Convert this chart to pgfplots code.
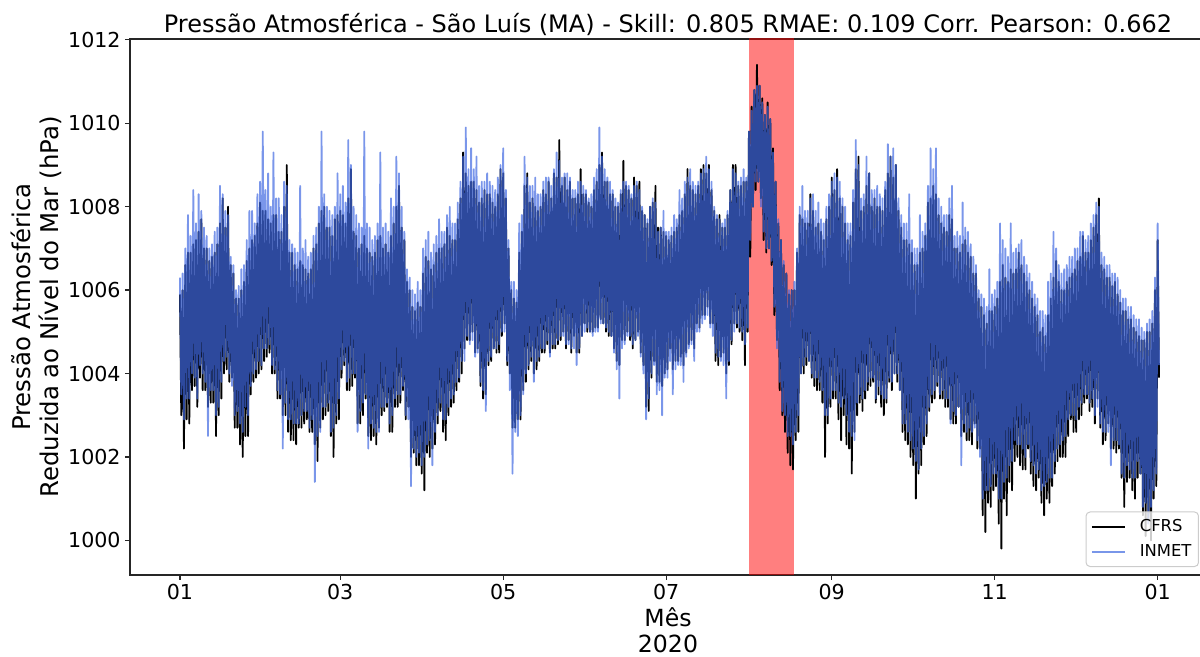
\documentclass[border=0pt]{standalone}
\usepackage{fontspec}
\setmainfont{DejaVu Sans}
\usepackage{pgfplots}
\pgfplotsset{compat=1.18}
\usepackage{pgfplotstable}

\definecolor{inmetblue}{RGB}{65,105,225}

% t: day of 2020 (0 = 1 Jan 00h), sampled twice a day at the daily high and low
% c: CFRS (hPa); i: INMET (hPa)
\pgfplotstableread{
t c i
0 1005.9 1006.3
0.5 1003.0 1003.5
1 1006.0 1006.4
1.5 1002.2 1002.9
2 1006.6 1007.0
2.5 1002.9 1003.4
3 1006.9 1007.8
3.5 1002.8 1003.4
4 1006.9 1007.3
4.5 1003.6 1004.0
5 1007.1 1008.4
5.5 1003.7 1003.9
6 1007.2 1007.6
6.5 1003.2 1003.4
7 1007.4 1008.3
7.5 1003.9 1004.2
8 1007.7 1007.9
8.5 1003.6 1004.0
9 1007.0 1007.5
9.5 1003.6 1003.8
10 1007.0 1007.3
10.5 1003.2 1002.5
11 1006.7 1007.0
11.5 1003.3 1003.6
12 1006.8 1007.1
12.5 1003.3 1003.6
13 1006.9 1007.4
13.5 1002.5 1003.0
14 1007.1 1007.5
14.5 1003.0 1003.2
15 1007.6 1008.5
15.5 1003.4 1003.8
16 1008.2 1008.3
16.5 1004.0 1004.3
17 1007.5 1007.9
17.5 1004.1 1004.4
18 1008.0 1007.8
18.5 1003.8 1004.0
19 1006.6 1006.8
19.5 1003.9 1003.7
20 1006.4 1006.6
20.5 1002.7 1003.0
21 1005.8 1006.0
21.5 1002.7 1003.1
22 1005.8 1006.1
22.5 1002.3 1002.8
23 1006.0 1006.5
23.5 1002.0 1002.6
24 1006.2 1006.6
24.5 1002.5 1003.2
25 1006.7 1007.2
25.5 1002.5 1003.0
26 1007.0 1007.9
26.5 1003.5 1003.7
27 1007.2 1007.9
27.5 1003.8 1004.0
28 1007.3 1007.6
28.5 1003.9 1004.1
29 1007.6 1008.3
29.5 1004.0 1004.3
30 1008.1 1008.6
30.5 1004.1 1004.2
31 1007.9 1009.8
31.5 1004.3 1004.6
32 1007.9 1008.4
32.5 1004.4 1004.6
33 1007.7 1008.8
33.5 1004.5 1004.7
34 1007.6 1008.0
34.5 1004.0 1004.2
35 1007.8 1009.3
35.5 1004.0 1004.1
36 1007.8 1008.2
36.5 1003.4 1003.6
37 1007.4 1008.2
37.5 1003.4 1003.5
38 1007.4 1007.8
38.5 1003.0 1002.2
39 1008.0 1008.6
39.5 1003.0 1003.3
40 1009.0 1008.5
40.5 1002.6 1002.9
41 1006.9 1007.2
41.5 1002.4 1002.9
42 1006.9 1007.1
42.5 1002.4 1002.8
43 1006.6 1007.0
43.5 1002.3 1002.8
44 1006.5 1006.9
44.5 1002.7 1002.8
45 1006.7 1008.5
45.5 1002.7 1003.0
46 1006.6 1007.0
46.5 1002.8 1003.1
47 1006.5 1007.2
47.5 1002.9 1003.1
48 1006.4 1006.8
48.5 1002.6 1002.7
49 1006.5 1006.9
49.5 1002.6 1002.9
50 1007.0 1007.3
50.5 1002.3 1001.4
51 1007.1 1007.5
51.5 1001.9 1002.5
52 1007.6 1008.0
52.5 1002.7 1002.6
53 1007.9 1009.8
53.5 1002.9 1003.2
54 1008.0 1008.3
54.5 1003.0 1003.2
55 1007.5 1008.0
55.5 1003.1 1003.3
56 1007.5 1007.9
56.5 1002.5 1002.6
57 1007.3 1007.8
57.5 1002.0 1002.7
58 1007.7 1008.0
58.5 1002.8 1003.0
59 1007.8 1008.8
59.5 1002.9 1003.4
60 1007.9 1008.3
60.5 1003.9 1004.1
61 1007.8 1008.5
61.5 1004.2 1004.3
62 1007.6 1008.1
62.5 1003.6 1003.8
63 1008.2 1009.6
63.5 1003.6 1003.9
64 1008.9 1009.0
64.5 1003.7 1004.0
65 1007.4 1008.0
65.5 1003.9 1004.0
66 1007.3 1007.8
66.5 1002.8 1002.6
67 1007.0 1007.6
67.5 1002.8 1003.1
68 1007.1 1007.5
68.5 1003.0 1003.3
69 1007.3 1009.8
69.5 1003.4 1003.5
70 1007.0 1007.6
70.5 1002.5 1002.2
71 1006.9 1007.5
71.5 1002.4 1002.8
72 1006.8 1007.2
72.5 1002.5 1002.7
73 1006.9 1007.3
73.5 1002.3 1002.6
74 1007.2 1007.6
74.5 1002.7 1002.6
75 1007.3 1009.3
75.5 1003.0 1003.2
76 1007.0 1007.5
76.5 1003.1 1003.2
77 1007.1 1007.6
77.5 1003.2 1003.3
78 1006.9 1007.4
78.5 1002.6 1002.8
79 1007.3 1008.2
79.5 1002.6 1003.0
80 1007.6 1008.0
80.5 1003.2 1003.4
81 1008.0 1009.2
81.5 1003.2 1003.5
82 1008.5 1008.8
82.5 1003.3 1003.5
83 1007.5 1008.0
83.5 1003.6 1003.7
84 1007.2 1007.4
84.5 1002.9 1003.0
85 1006.2 1006.5
85.5 1003.2 1002.9
86 1006.0 1006.3
86.5 1002.0 1001.3
87 1005.6 1006.0
87.5 1002.1 1002.2
88 1005.5 1005.9
88.5 1001.8 1002.0
89 1005.7 1006.2
89.5 1001.8 1002.1
90 1005.6 1006.0
90.5 1001.6 1001.8
91 1006.4 1007.0
91.5 1001.2 1002.0
92 1006.8 1007.2
92.5 1002.1 1002.3
93 1006.7 1007.4
93.5 1002.0 1002.4
94 1006.5 1006.9
94.5 1002.2 1001.8
95 1006.6 1007.1
95.5 1002.3 1002.6
96 1006.9 1007.3
96.5 1002.8 1003.0
97 1007.0 1007.7
97.5 1003.1 1003.3
98 1007.0 1007.4
98.5 1002.6 1002.9
99 1007.1 1007.4
99.5 1002.4 1002.9
100 1007.5 1007.8
100.5 1003.0 1003.2
101 1007.3 1008.0
101.5 1003.2 1003.4
102 1007.2 1007.6
102.5 1003.3 1003.5
103 1007.2 1007.6
103.5 1003.6 1003.8
104 1007.7 1008.1
104.5 1003.8 1003.9
105 1008.2 1008.6
105.5 1004.0 1004.3
106 1009.3 1009.2
106.5 1004.6 1004.3
107 1008.8 1009.9
107.5 1004.8 1004.9
108 1008.5 1008.9
108.5 1004.8 1004.7
109 1008.6 1009.4
109.5 1005.0 1004.8
110 1008.6 1008.9
110.5 1004.5 1004.4
111 1008.4 1009.2
111.5 1004.6 1004.5
112 1008.1 1008.5
112.5 1003.7 1003.8
113 1008.2 1008.6
113.5 1003.4 1003.6
114 1008.4 1008.6
114.5 1003.5 1003.1
115 1008.3 1008.8
115.5 1004.2 1004.3
116 1008.3 1008.6
116.5 1004.3 1004.4
117 1008.1 1008.5
117.5 1004.6 1004.6
118 1008.0 1008.4
118.5 1004.5 1004.6
119 1008.3 1008.7
119.5 1004.5 1004.7
120 1008.9 1009.0
120.5 1004.9 1005.0
121 1008.8 1009.4
121.5 1005.2 1005.0
122 1008.2 1008.4
122.5 1004.2 1004.3
123 1007.0 1007.2
123.5 1004.0 1003.6
124 1006.0 1006.2
124.5 1002.7 1001.6
125 1005.8 1006.2
125.5 1002.7 1002.6
126 1005.7 1006.0
126.5 1002.9 1002.5
127 1006.9 1007.6
127.5 1002.9 1003.0
128 1007.4 1007.8
128.5 1003.6 1003.5
129 1008.5 1009.2
129.5 1003.8 1004.0
130 1008.8 1008.7
130.5 1004.1 1004.2
131 1008.1 1008.5
131.5 1004.3 1004.4
132 1008.2 1008.5
132.5 1004.0 1003.8
133 1008.0 1008.7
133.5 1004.1 1004.3
134 1007.9 1008.3
134.5 1004.3 1004.4
135 1008.0 1008.3
135.5 1004.5 1004.6
136 1008.4 1008.6
136.5 1004.5 1004.6
137 1008.3 1008.7
137.5 1004.7 1004.8
138 1008.6 1008.7
138.5 1004.5 1004.4
139 1008.2 1008.5
139.5 1004.6 1004.7
140 1008.8 1008.9
140.5 1004.6 1004.7
141 1008.7 1009.3
141.5 1004.7 1004.8
142 1009.6 1009.1
142.5 1004.8 1004.9
143 1008.5 1008.7
143.5 1005.0 1004.9
144 1008.7 1008.8
144.5 1004.6 1004.7
145 1008.4 1008.8
145.5 1004.8 1004.7
146 1008.6 1008.7
146.5 1004.5 1004.6
147 1008.2 1008.4
147.5 1004.9 1004.6
148 1008.2 1008.4
148.5 1004.5 1004.2
149 1008.3 1008.6
149.5 1004.5 1004.6
150 1008.9 1008.6
150.5 1004.9 1004.9
151 1008.3 1008.5
151.5 1005.2 1005.0
152 1008.3 1008.4
152.5 1005.0 1005.1
153 1008.1 1008.2
153.5 1005.0 1005.0
154 1008.0 1008.3
154.5 1005.0 1004.9
155 1008.4 1008.7
155.5 1005.1 1005.0
156 1008.6 1008.9
156.5 1005.1 1005.0
157 1009.0 1009.9
157.5 1005.3 1005.2
158 1009.3 1009.2
158.5 1005.2 1005.2
159 1008.6 1008.9
159.5 1005.0 1005.1
160 1008.6 1008.7
160.5 1004.9 1005.0
161 1008.3 1008.6
161.5 1004.9 1004.9
162 1008.3 1008.4
162.5 1004.6 1004.5
163 1008.0 1008.2
163.5 1004.3 1004.1
164 1008.0 1008.1
164.5 1004.2 1003.4
165 1008.3 1008.4
165.5 1004.8 1004.6
166 1009.1 1008.6
166.5 1004.8 1004.7
167 1008.5 1008.6
167.5 1005.0 1004.9
168 1008.4 1008.5
168.5 1004.8 1004.9
169 1008.2 1008.3
169.5 1004.6 1004.7
170 1008.7 1008.5
170.5 1004.8 1004.8
171 1008.5 1008.6
171.5 1005.0 1004.9
172 1008.6 1008.4
172.5 1004.5 1004.4
173 1007.9 1008.0
173.5 1004.2 1004.0
174 1007.8 1007.8
174.5 1003.2 1002.9
175 1007.6 1007.7
175.5 1003.1 1003.4
176 1008.0 1008.0
176.5 1003.9 1004.0
177 1008.1 1008.2
177.5 1004.3 1004.2
178 1008.5 1008.1
178.5 1003.8 1003.5
179 1007.5 1007.4
179.5 1003.8 1003.6
180 1007.5 1007.5
180.5 1003.7 1003.0
181 1007.4 1007.9
181.5 1004.0 1003.9
182 1007.3 1007.4
182.5 1004.1 1003.9
183 1007.2 1007.4
183.5 1004.6 1004.3
184 1007.3 1007.5
184.5 1004.1 1003.5
185 1007.4 1007.8
185.5 1004.3 1004.1
186 1007.5 1007.7
186.5 1004.3 1004.2
187 1007.8 1008.4
187.5 1004.4 1004.2
188 1007.9 1008.2
188.5 1004.2 1003.8
189 1008.3 1008.6
189.5 1004.5 1004.4
190 1008.9 1008.7
190.5 1004.7 1004.6
191 1008.5 1008.9
191.5 1004.8 1004.7
192 1008.4 1008.6
192.5 1004.6 1004.3
193 1008.3 1008.5
193.5 1005.2 1005.0
194 1008.5 1008.6
194.5 1005.1 1005.0
195 1008.9 1008.8
195.5 1005.4 1005.2
196 1009.0 1008.9
196.5 1005.4 1005.3
197 1008.8 1009.2
197.5 1005.6 1005.4
198 1009.0 1008.9
198.5 1005.2 1005.1
199 1008.4 1008.6
199.5 1005.2 1004.9
200 1007.9 1008.0
200.5 1004.3 1004.5
201 1007.7 1007.8
201.5 1004.2 1004.4
202 1007.8 1007.7
202.5 1004.4 1004.3
203 1007.5 1007.6
203.5 1004.5 1004.2
204 1007.5 1007.7
204.5 1004.0 1003.4
205 1007.8 1007.9
205.5 1004.2 1004.3
206 1008.4 1008.4
206.5 1004.7 1004.8
207 1009.0 1008.9
207.5 1005.2 1005.0
208 1009.0 1008.8
208.5 1005.1 1005.2
209 1008.5 1008.6
209.5 1005.0 1005.1
210 1008.5 1008.7
210.5 1004.8 1005.0
211 1008.6 1008.9
211.5 1004.2 1004.7
212 1008.6 1008.7
212.5 1005.0 1005.1
213 1009.8 1009.8
213.5 1006.8 1007.2
214 1010.4 1010.3
214.5 1008.0 1008.0
215 1010.8 1010.8
215.5 1008.4 1008.6
216 1011.4 1010.9
216.5 1008.6 1008.6
217 1010.9 1010.9
217.5 1008.2 1008.0
218 1010.6 1010.5
218.5 1007.2 1007.4
219 1010.2 1010.2
219.5 1006.9 1007.0
220 1010.5 1010.4
220.5 1007.0 1007.0
221 1010.1 1010.1
221.5 1006.6 1006.7
222 1009.4 1009.3
222.5 1005.4 1005.6
223 1008.6 1008.6
223.5 1004.8 1004.6
224 1007.6 1007.7
224.5 1003.6 1003.8
225 1007.2 1007.2
225.5 1003.0 1003.1
226 1006.6 1006.7
226.5 1002.6 1003.0
227 1006.4 1006.4
227.5 1002.1 1002.5
228 1005.9 1006.0
228.5 1001.8 1002.5
229 1006.0 1006.0
229.5 1001.7 1002.3
230 1006.0 1006.2
230.5 1002.4 1002.6
231 1006.9 1007.0
231.5 1002.6 1003.0
232 1007.8 1008.0
232.5 1004.0 1004.0
233 1007.7 1008.5
233.5 1004.0 1004.2
234 1007.6 1007.9
234.5 1004.2 1004.4
235 1007.6 1007.9
235.5 1004.3 1004.3
236 1008.3 1008.2
236.5 1003.9 1004.0
237 1007.9 1008.3
237.5 1003.7 1003.9
238 1007.5 1007.9
238.5 1003.6 1003.9
239 1007.6 1008.1
239.5 1003.6 1003.8
240 1007.4 1007.7
240.5 1003.3 1003.6
241 1007.2 1007.6
241.5 1002.0 1003.0
242 1007.7 1008.0
242.5 1002.8 1003.0
243 1008.0 1008.3
243.5 1003.2 1003.4
244 1008.7 1008.6
244.5 1003.4 1003.6
245 1008.4 1008.8
245.5 1003.4 1003.6
246 1008.9 1008.7
246.5 1002.9 1003.3
247 1008.2 1008.6
247.5 1002.4 1003.2
248 1008.0 1008.2
248.5 1003.0 1003.4
249 1007.6 1008.0
249.5 1002.3 1003.0
250 1007.2 1007.6
250.5 1002.2 1002.6
251 1007.3 1007.6
251.5 1001.6 1002.5
252 1008.1 1008.4
252.5 1002.6 1002.4
253 1008.9 1009.6
253.5 1003.0 1003.3
254 1009.2 1009.0
254.5 1003.3 1003.5
255 1007.9 1008.2
255.5 1003.1 1003.4
256 1008.0 1008.3
256.5 1003.4 1003.6
257 1008.5 1009.2
257.5 1003.6 1003.8
258 1008.8 1008.8
258.5 1003.7 1003.9
259 1008.0 1008.4
259.5 1003.8 1003.9
260 1008.2 1008.4
260.5 1003.3 1003.4
261 1008.0 1008.5
261.5 1003.5 1003.7
262 1008.0 1008.3
262.5 1003.2 1003.5
263 1007.9 1008.2
263.5 1003.0 1003.4
264 1008.4 1008.6
264.5 1003.3 1003.4
265 1008.8 1009.5
265.5 1003.8 1003.9
266 1009.2 1009.2
266.5 1003.6 1003.8
267 1008.7 1009.4
267.5 1004.0 1004.0
268 1009.0 1009.0
268.5 1003.8 1004.0
269 1007.9 1008.2
269.5 1003.6 1003.6
270 1007.5 1007.8
270.5 1002.6 1002.8
271 1007.2 1007.6
271.5 1002.4 1002.8
272 1007.2 1007.6
272.5 1002.3 1002.6
273 1007.1 1008.3
273.5 1002.0 1002.4
274 1006.9 1007.2
274.5 1001.8 1002.2
275 1006.6 1007.0
275.5 1001.0 1001.9
276 1006.6 1007.0
276.5 1001.6 1001.7
277 1006.9 1007.8
277.5 1001.8 1002.2
278 1007.0 1007.4
278.5 1002.3 1002.5
279 1007.3 1007.6
279.5 1002.5 1002.8
280 1008.1 1008.5
280.5 1003.1 1003.2
281 1008.2 1009.4
281.5 1003.3 1003.5
282 1008.5 1008.9
282.5 1003.4 1003.6
283 1008.3 1009.4
283.5 1003.7 1003.8
284 1007.8 1008.2
284.5 1003.4 1003.5
285 1007.6 1008.0
285.5 1003.4 1003.6
286 1007.5 1007.8
286.5 1003.2 1003.4
287 1007.4 1007.8
287.5 1003.2 1003.4
288 1007.8 1008.2
288.5 1002.9 1002.8
289 1007.7 1008.5
289.5 1002.8 1003.1
290 1007.0 1007.3
290.5 1002.8 1003.0
291 1007.0 1007.4
291.5 1003.2 1003.2
292 1006.9 1007.3
292.5 1002.5 1001.8
293 1007.1 1008.1
293.5 1002.6 1002.8
294 1007.2 1007.5
294.5 1002.4 1002.6
295 1006.9 1007.4
295.5 1002.4 1002.7
296 1006.8 1007.1
296.5 1002.3 1002.6
297 1006.4 1006.8
297.5 1002.8 1002.7
298 1006.4 1006.6
298.5 1002.2 1002.4
299 1005.8 1006.0
299.5 1002.2 1002.0
300 1005.6 1005.9
300.5 1000.6 1001.0
301 1005.4 1005.8
301.5 1000.2 1001.2
302 1005.2 1005.6
302.5 1000.9 1001.2
303 1005.5 1006.5
303.5 1000.8 1001.3
304 1005.5 1005.9
304.5 1001.2 1001.6
305 1005.6 1006.0
305.5 1001.3 1001.6
306 1005.8 1006.2
306.5 1000.4 1001.0
307 1006.2 1007.6
307.5 999.8 1001.0
308 1006.6 1007.2
308.5 1001.0 1001.4
309 1006.3 1007.0
309.5 1000.6 1001.5
310 1006.2 1006.8
310.5 1001.4 1001.8
311 1006.5 1007.6
311.5 1001.2 1001.9
312 1006.4 1006.9
312.5 1001.9 1002.4
313 1006.5 1007.0
313.5 1002.0 1002.3
314 1006.9 1007.1
314.5 1001.8 1002.3
315 1006.6 1007.2
315.5 1001.7 1002.2
316 1006.4 1006.8
316.5 1001.7 1002.0
317 1006.2 1006.6
317.5 1002.2 1002.3
318 1006.0 1006.4
318.5 1001.6 1001.9
319 1005.8 1006.2
319.5 1001.3 1001.8
320 1005.6 1005.9
320.5 1001.2 1001.6
321 1005.4 1005.8
321.5 1001.5 1001.7
322 1005.0 1005.5
322.5 1000.9 1001.2
323 1005.1 1005.5
323.5 1000.6 1001.3
324 1004.9 1005.4
324.5 1001.0 1001.4
325 1005.4 1006.2
325.5 1000.9 1001.5
326 1005.8 1006.4
326.5 1001.3 1001.5
327 1006.3 1007.4
327.5 1001.6 1001.9
328 1006.7 1007.0
328.5 1001.9 1002.2
329 1006.2 1006.6
329.5 1002.0 1002.3
330 1006.0 1006.4
330.5 1002.0 1002.4
331 1006.0 1006.5
331.5 1002.0 1002.5
332 1006.2 1006.6
332.5 1002.5 1002.9
333 1006.3 1006.8
333.5 1002.9 1003.0
334 1006.4 1006.8
334.5 1002.6 1003.0
335 1006.5 1007.0
335.5 1002.6 1002.9
336 1006.7 1007.0
336.5 1002.9 1003.2
337 1006.8 1007.4
337.5 1003.0 1003.3
338 1007.3 1007.4
338.5 1003.3 1003.5
339 1006.9 1007.2
339.5 1003.4 1003.5
340 1006.9 1007.3
340.5 1003.1 1003.3
341 1007.2 1007.6
341.5 1003.2 1003.4
342 1007.5 1007.8
342.5 1002.8 1003.0
343 1007.8 1008.1
343.5 1003.4 1003.2
344 1008.2 1008.0
344.5 1002.7 1002.8
345 1006.6 1006.9
345.5 1002.3 1002.6
346 1006.5 1006.8
346.5 1002.4 1002.6
347 1006.3 1006.6
347.5 1002.8 1002.6
348 1006.3 1006.6
348.5 1002.2 1001.8
349 1006.1 1006.4
349.5 1002.2 1002.4
350 1006.2 1006.4
350.5 1002.1 1002.4
351 1005.9 1006.3
351.5 1002.2 1002.3
352 1005.7 1006.0
352.5 1001.5 1001.6
353 1005.5 1005.8
353.5 1000.8 1001.5
354 1005.5 1005.8
354.5 1001.4 1001.8
355 1005.3 1005.6
355.5 1001.5 1001.7
356 1005.3 1005.6
356.5 1001.2 1001.5
357 1005.1 1005.4
357.5 1001.0 1001.5
358 1005.0 1005.3
358.5 1001.5 1001.9
359 1004.9 1005.3
359.5 1001.6 1001.6
360 1004.8 1005.1
360.5 1000.6 1000.8
361 1004.8 1005.0
361.5 1000.1 1000.9
362 1005.0 1005.2
362.5 1000.5 1000.4
363 1005.0 1005.3
363.5 1000.0 1000.8
364 1005.2 1005.5
364.5 1001.0 1001.2
365 1006.0 1006.3
365.5 1001.3 1001.6
366 1007.2 1007.6
366.5 1003.9 1004.2
}\pressao

\begin{document}
\begin{tikzpicture}
\begin{axis}[
  name=ax,
  scale only axis,
  width=538pt, height=268pt,
  xmin=-18.7, xmax=384.1,
  ymin=999.17, ymax=1012.02,
  clip mode=individual,
  axis line style={black!85, line width=0.6pt},
  tick style={black!85, line width=0.6pt},
  tick align=outside,
  major tick length=2.5pt,
  xtick pos=left, ytick pos=left,
  xtick={0,60,121,182,244,305,366},
  xticklabels={01,03,05,07,09,11,01},
  ytick={1000,1002,1004,1006,1008,1010,1012},
  yticklabels={1000,1002,1004,1006,1008,1010,1012},
  /pgf/number format/assume math mode=true,
  ticklabel style={font=\fontsize{10.3pt}{12pt}\selectfont, inner sep=0pt},
  xticklabel style={yshift=-2pt},
  yticklabel style={xshift=-2pt},
  legend style={
    at={(axis description cs:0.99349,0.0149)}, anchor=south east,
    draw=black!20, line width=0.5pt, rounded corners=2pt,
    fill=white, fill opacity=0.8, text opacity=1, draw opacity=1,
    font=\fontsize{8.2pt}{10pt}\selectfont,
    inner xsep=1.5pt, inner ysep=1.6pt, row sep=1pt,
    /tikz/every odd column/.append style={column sep=5pt},
  },
  legend cell align=left,
  legend image code/.code={\path (0pt,0pt); \draw[#1] (1pt,0pt) -- (17.5pt,0pt);},
]
% period highlighted in August
\addplot[draw=none, fill=red, fill opacity=0.5, forget plot]
  coordinates {(213,998) (213,1013) (230,1013) (230,998)} -- cycle;
\addplot[black, line width=0.9pt, line join=round] table[x=t, y=c]{\pressao};
\addlegendentry{CFRS}
\addplot[inmetblue, line width=0.9pt, draw opacity=0.7, line join=round]
  table[x=t, y=i]{\pressao};
\addlegendentry{INMET}

\node[anchor=base, font=\fontsize{12pt}{14pt}\selectfont]
  at (axis description cs:0.5,1.01175)
  {Pressão Atmosférica - São Luís (MA) - Skill: 0.805 RMAE: 0.109 Corr. Pearson: 0.662};
\node[rotate=90, anchor=south, align=center, inner sep=0pt,
      font=\fontsize{12.2pt}{14pt}\selectfont]
  at (axis description cs:-0.0632,0.5)
  {Pressão Atmosférica\\Reduzida ao Nível do Mar (hPa)};
\node[anchor=base, font=\fontsize{11.8pt}{14pt}\selectfont]
  at (axis description cs:0.5,-0.0970) {Mês};
\node[anchor=base, font=\fontsize{11.8pt}{14pt}\selectfont]
  at (axis description cs:0.5,-0.1455) {2020};
\end{axis}
\pgfresetboundingbox
\path ([shift={(-65pt,-41pt)}]ax.south west) rectangle ([shift={(-3pt,19.5pt)}]ax.north east);
\end{tikzpicture}
\end{document}
